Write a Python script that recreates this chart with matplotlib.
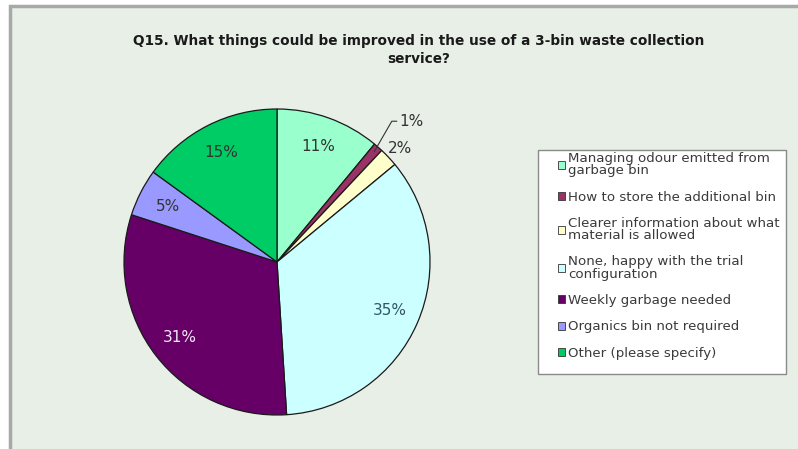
import numpy as np
import matplotlib.pyplot as plt
from matplotlib.patches import Rectangle, Patch

# datos del grafico
categorias = [
    "Managing odour emitted from\ngarbage bin",
    "How to store the additional bin",
    "Clearer information about what\nmaterial is allowed",
    "None, happy with the trial\nconfiguration",
    "Weekly garbage needed",
    "Organics bin not required",
    "Other (please specify)",
]
porcentajes = [11, 1, 2, 35, 31, 5, 15]
colores = ["#99FFCC", "#993366", "#FFFFCC", "#CCFFFF", "#660066", "#9999FF", "#00CC66"]
color_texto = ["#333333", "#333333", "#333333", "#335566", "#F4E8F4", "#333333", "#333333"]

titulo = "Q15. What things could be improved in the use of a 3-bin waste collection\nservice?"

W, H = 798, 449
plt.rcParams["font.family"] = ["DejaVu Sans"]
fig = plt.figure(figsize=(W / 100, H / 100), dpi=100)
fig.patch.set_facecolor("white")

# fondo con borde gris arriba e izquierda
fondo = Rectangle((10 / W, -0.05), 1.2, 1 - 6 / H + 0.05, transform=fig.transFigure,
                  facecolor="#E7EFE7", edgecolor="#A8A8A8", linewidth=2.5, zorder=-5)
fig.patches.append(fondo)

fig.text(419 / W, 1 - 50 / H, titulo, ha="center", va="center", fontsize=9.8,
         fontweight="bold", color="#1A1A1A", linespacing=1.3)

# pie: centro (277, 262) px, radio ~153 px
cx, cy, r = 277, 262, 153
ax = fig.add_axes([(cx - r) / W, 1 - (cy + r) / H, 2 * r / W, 2 * r / H])
ax.set_facecolor("none")
wedges, _, autotexts = ax.pie(porcentajes, colors=colores, startangle=90, counterclock=False,
                              radius=1, autopct="%.0f%%", pctdistance=0.8,
                              wedgeprops=dict(edgecolor="#1A1A1A", linewidth=0.9),
                              textprops=dict(fontsize=11))
ax.set_xlim(-1, 1)
ax.set_ylim(-1, 1)
ax.set_aspect("equal")
ax.axis("off")

for t, c in zip(autotexts, color_texto):
    t.set_color(c)

# etiquetas pequeñas fuera del pie
for i in (1, 2):
    w = wedges[i]
    ang = np.deg2rad((w.theta1 + w.theta2) / 2)
    x0, y0 = np.cos(ang), np.sin(ang)
    autotexts[i].set_visible(False)
    if i == 1:
        ax.annotate(autotexts[i].get_text(), xy=(0.96 * x0, 0.96 * y0),
                    xytext=(x0 + 0.14, y0 + 0.17), fontsize=11, color="#333333",
                    ha="left", va="center",
                    arrowprops=dict(arrowstyle="-", color="#333333", lw=0.8,
                                    connectionstyle="angle,angleA=0,angleB=60,rad=0",
                                    shrinkA=0, shrinkB=0))
    else:
        ax.text(1.1 * x0, 1.1 * y0 - 0.01, autotexts[i].get_text(), fontsize=11,
                color="#333333", ha="center", va="center")

# marco de la leyenda
marco = Rectangle((538 / W, 1 - 374 / H), 248 / W, 224 / H, transform=fig.transFigure,
                  facecolor="white", edgecolor="#8A8A8A", linewidth=1.0, zorder=1)
fig.patches.append(marco)

handles = [Patch(facecolor=c, edgecolor="#333333", linewidth=0.6) for c in colores]
leg = fig.legend(handles, categorias, loc="upper left",
                 bbox_to_anchor=(558 / W, 1 - 152 / H),
                 fontsize=9.6, frameon=False,
                 handlelength=0.55, handleheight=0.55, handletextpad=0.2,
                 labelspacing=1.0, borderpad=0, borderaxespad=0)
leg.set_zorder(2)
for t in leg.get_texts():
    t.set_color("#3A3A3A")
    t.set_linespacing(0.92)

fig.savefig("out.png", dpi=100)
